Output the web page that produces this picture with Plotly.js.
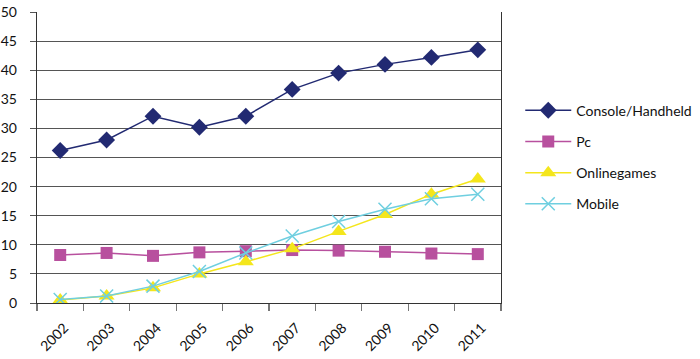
<!DOCTYPE html>
<html>
<head>
<meta charset="utf-8">
<script src="https://cdn.plot.ly/plotly-3.0.1.min.js"></script>
<style>html,body{margin:0;padding:0;background:#fff;}#chart{width:700px;height:359px;}</style>
</head>
<body>
<div id="chart"></div>
<script>
var years = ['2002','2003','2004','2005','2006','2007','2008','2009','2010','2011'];
var consoleHandheld = [26.2, 28.0, 32.1, 30.2, 32.1, 36.7, 39.5, 41.0, 42.2, 43.5];
var pc = [8.25, 8.6, 8.1, 8.7, 8.9, 9.1, 9.0, 8.8, 8.5, 8.4];
var onlinegames = [0.5, 1.2, 2.6, 5.0, 7.1, 9.3, 12.3, 15.2, 18.7, 21.3];
var mobile = [0.6, 1.2, 2.9, 5.4, 8.6, 11.5, 14.0, 16.1, 17.9, 18.7];
var seriesNames = ['Console/Handheld', 'Pc', 'Onlinegames', 'Mobile'];
var yTicks = [0, 5, 10, 15, 20, 25, 30, 35, 40, 45, 50];

var colors = ['#222a72', '#b8509e', '#f4e61c', '#6fcfe0'];
var symbols = ['diamond', 'square', 'triangle-up', 'x-thin-open'];
var sizes = [13, 12, 14, 13];
var data = [consoleHandheld, pc, onlinegames, mobile];

var traces = data.map(function (vals, i) {
  return {
    type: 'scatter', mode: 'lines+markers',
    x: years, y: vals, name: seriesNames[i],
    legendgroup: 'g' + i,
    line: {color: colors[i], width: 1.5},
    marker: {symbol: symbols[i], size: sizes[i], color: colors[i],
             line: {color: colors[i], width: i === 3 ? 1.5 : 0}},
    hoverinfo: 'x+y'
  };
});

var layout = {
  width: 700, height: 359,
  margin: {l: 37, r: 199, t: 12, b: 56, autoexpand: false},
  paper_bgcolor: '#ffffff', plot_bgcolor: '#ffffff',
  font: {family: 'Lato, "Open Sans", sans-serif', size: 14, color: '#111'},
  showlegend: true,
  legend: {x: 1.0415, xanchor: 'left', y: 0.716, yanchor: 'top',
           font: {size: 14, color: '#111'}, tracegroupgap: 10,
           traceorder: 'grouped', itemwidth: 46, bgcolor: 'rgba(0,0,0,0)'},
  xaxis: {
    type: 'category', tickson: 'boundaries', ticks: 'outside', ticklen: 7,
    tickcolor: '#777', tickwidth: 1.2, tickangle: -45,
    showline: true, linecolor: '#333', linewidth: 1.2,
    showgrid: false, zeroline: false, range: [-0.5, 9.5],
    ticklabelstandoff: 10, ticklabelshift: 4,
    tickfont: {size: 14, color: '#111'}
  },
  yaxis: {
    range: [0, 50], tickvals: yTicks, ticktext: yTicks.map(String),
    ticks: 'outside', ticklen: 6, tickcolor: '#555', tickwidth: 1,
    showline: true, linecolor: '#333', linewidth: 1.2, mirror: true,
    showgrid: true, gridcolor: '#555', gridwidth: 1, zeroline: false,
    ticklabelstandoff: 10, tickfont: {size: 14, color: '#111'}
  }
};

Plotly.newPlot('chart', traces, layout, {displayModeBar: false, staticPlot: true});
</script>
</body>
</html>
